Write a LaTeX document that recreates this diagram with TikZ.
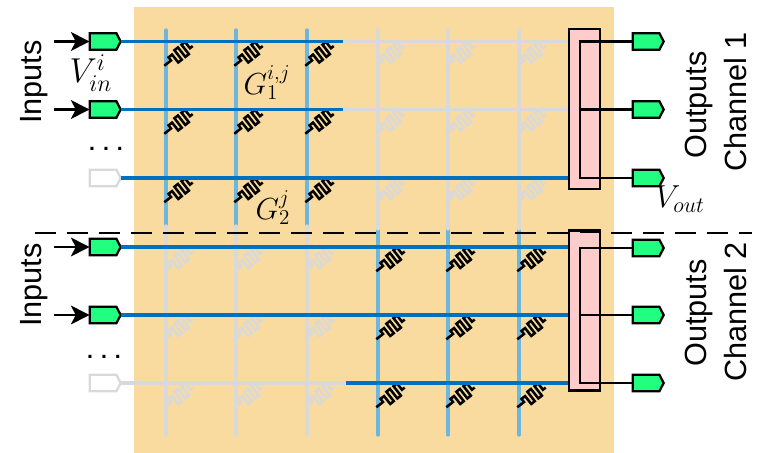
\documentclass[tikz,border=0pt]{standalone}
\usepackage{fontspec}
\setmainfont{Liberation Sans}
\usetikzlibrary{shapes.symbols,arrows.meta}
\definecolor{panel}{HTML}{F9DBA0}
\definecolor{wireblue}{HTML}{0070C0}
\definecolor{coldblue}{HTML}{6DB6DE}
\definecolor{fade}{HTML}{D9D9D9}
\definecolor{pinkbox}{HTML}{FFCCCC}
\definecolor{pingreen}{HTML}{22FF80}
\tikzset{
  pinnode/.style={shape=signal,signal to=east,signal pointer angle=125,minimum width=23.25pt,minimum height=12.5pt,inner sep=0pt,outer sep=0pt,line width=1.7pt,draw=black,fill=pingreen},
  fadepin/.style={pinnode,draw=fade,fill=white},
  rowwire/.style={line width=2.6pt,wireblue},
  fadewire/.style={line width=2.6pt,fade},
  colwire/.style={line width=2.4pt,coldblue,line cap=round},
  fadecol/.style={line width=2.4pt,fade,line cap=round},
  thinwire/.style={line width=1.6pt,black},
  inarrow/.style={line width=1.6pt,black,-{Stealth[length=14pt,width=14pt,inset=3.5pt]}},
  bigtext/.style={rotate=90,font=\fontsize{23}{25}\selectfont,inner sep=0pt},
  mathlabel/.style={font=\fontsize{20}{22}\selectfont,inner sep=0pt,scale=1.25},
  dotstext/.style={font=\fontsize{16}{18}\selectfont\bfseries,inner sep=0pt,anchor=base},
  pinkrect/.style={draw=black,fill=pinkbox,line width=1.7pt},
  resistor/.pic={
    \draw[line width=1.9pt,line join=miter,pic actions]
      (-8.5,0)--(0,0)--(0,-4)--(4.5,-4)--(4.5,6)--(9,6)--(9,-6)--(13.5,-6)--(13.5,6)--(18,6)--(18,-6)--(22.5,-6)--(22.5,2)--(26,2);
  }
}
\begin{document}
\begin{tikzpicture}[x=0.75pt,y=-0.75pt]
\useasboundingbox (0,0) rectangle (761,453);
\fill[panel] (134,7) rectangle (614,453);

% columns
\foreach \n/\x in {1/166,2/236,3/307}{
  \coordinate (ct\n) at (\x,30);
  \coordinate (cm\n) at (\x,226);
  \coordinate (cb\n) at (\x,435);
  \draw[colwire] (ct\n)--(cm\n);
  \draw[fadecol] (cm\n)--(cb\n);
}
\foreach \n/\x in {4/378,5/448,6/519}{
  \coordinate (ct\n) at (\x,30);
  \coordinate (cm\n) at (\x,229);
  \coordinate (cb\n) at (\x,435);
  \draw[colwire] (cm\n)--(cb\n);
  \draw[fadecol] (ct\n)--(cm\n);
}
% rows
\foreach \n/\y in {1/41.5,2/109.5,3/178,4/247,5/315,6/383}{
  \coordinate (rs\n) at (343,\y);
  \coordinate (re\n) at (568,\y);
  \coordinate (rk\n) at (580,\y);
}

% resistors
\foreach \x in {166,236,307}{\foreach \y in {41.5,109.5,178}{
  \path (\x+5,\y+19) pic[rotate=38,black] {resistor};}}
\foreach \x in {378,448,519}{\foreach \y in {41.5,109.5,178}{
  \path (\x+5,\y+19) pic[rotate=38,fade] {resistor};}}
\foreach \x in {166,236,307}{\foreach \y in {247,315,383}{
  \path (\x+5,\y+19) pic[rotate=38,fade] {resistor};}}
\foreach \x in {378,448,519}{\foreach \y in {247,315,383}{
  \path (\x+5,\y+19) pic[rotate=38,black] {resistor};}}

% input pins
\node[pinnode] (in1) at (103,41.5) {};
\node[pinnode] (in2) at (103,109.5) {};
\node[fadepin] (in3) at (103,178) {};
\node[pinnode] (in4) at (103,247) {};
\node[pinnode] (in5) at (103,315) {};
\node[fadepin] (in6) at (103,383) {};

% row wires
\coordinate (rq6) at (346,383);
\draw[fadewire] (rs1)--(re1);
\draw[fadewire] (rs2)--(re2);
\draw[fadewire] (in6.east)--(rq6);
\draw[rowwire] (in1.east)--(rs1);
\draw[rowwire] (in2.east)--(rs2);
\draw[rowwire] (in3.east)--(re3);
\draw[rowwire] (in4.east)--(re4);
\draw[rowwire] (in5.east)--(re5);
\draw[rowwire] (rq6)--(re6);

% dashed divider
\coordinate (dl) at (35,233);
\coordinate (dr) at (752,233);
\draw[line width=1.8pt,black,dash pattern=on 15.75pt off 8.25pt] (dl)--(dr);

% input arrows
\foreach \n/\y in {1/41.5,2/109.5,4/247,5/315}{
  \coordinate (as\n) at (54,\y);
  \draw[inarrow] (as\n)--(in\n.west);
}

% pink collector boxes
\node[pinkrect,minimum width=23.25pt,minimum height=120pt,inner sep=0pt,outer sep=0pt] (box1) at (584.5,109) {};
\node[pinkrect,minimum width=23.25pt,minimum height=120pt,inner sep=0pt,outer sep=0pt] (box2) at (584.5,310.5) {};
\draw[line width=2.4pt,black] (580,231)--(600,231);

% output pins
\node[pinnode] (out1) at (646,41.5) {};
\node[pinnode] (out2) at (646,109.5) {};
\node[pinnode] (out3) at (646,178) {};
\node[pinnode] (out4) at (646,248) {};
\node[pinnode] (out5) at (646,315) {};
\node[pinnode] (out6) at (646,383) {};

\draw[thinwire] (out1.west)--(rk1)--(rk3)--(out3.west);
\draw[thinwire] (rk2)--(out2.west);
\draw[thinwire] (out4.west)--(580,248)--(rk6)--(out6.west);
\draw[thinwire] (rk5)--(out5.west);

% texts
\node[bigtext] (inputsa) at (34,82) {Inputs};
\node[bigtext] (inputsb) at (34,285) {Inputs};
\node[bigtext] (outa) at (699,105) {Outputs};
\node[bigtext] (cha) at (736,102) {Channel 1};
\node[bigtext] (outb) at (699,313) {Outputs};
\node[bigtext] (chb) at (736,312) {Channel 2};
\node[dotstext] (dotsa) at (106,151) {. . .};
\node[dotstext] (dotsb) at (104,358) {. . .};
\node[mathlabel] (vin) at (91,73) {$V_{in}^{i}$};
\node[mathlabel,scale=0.88] (g1) at (267,83) {$G_{1}^{i,j}$};
\node[mathlabel,scale=0.88] (g2) at (273,208) {$G_{2}^{j}$};
\node[mathlabel,scale=0.92] (vout) at (680,199) {$V_{out}$};
\end{tikzpicture}
\end{document}
